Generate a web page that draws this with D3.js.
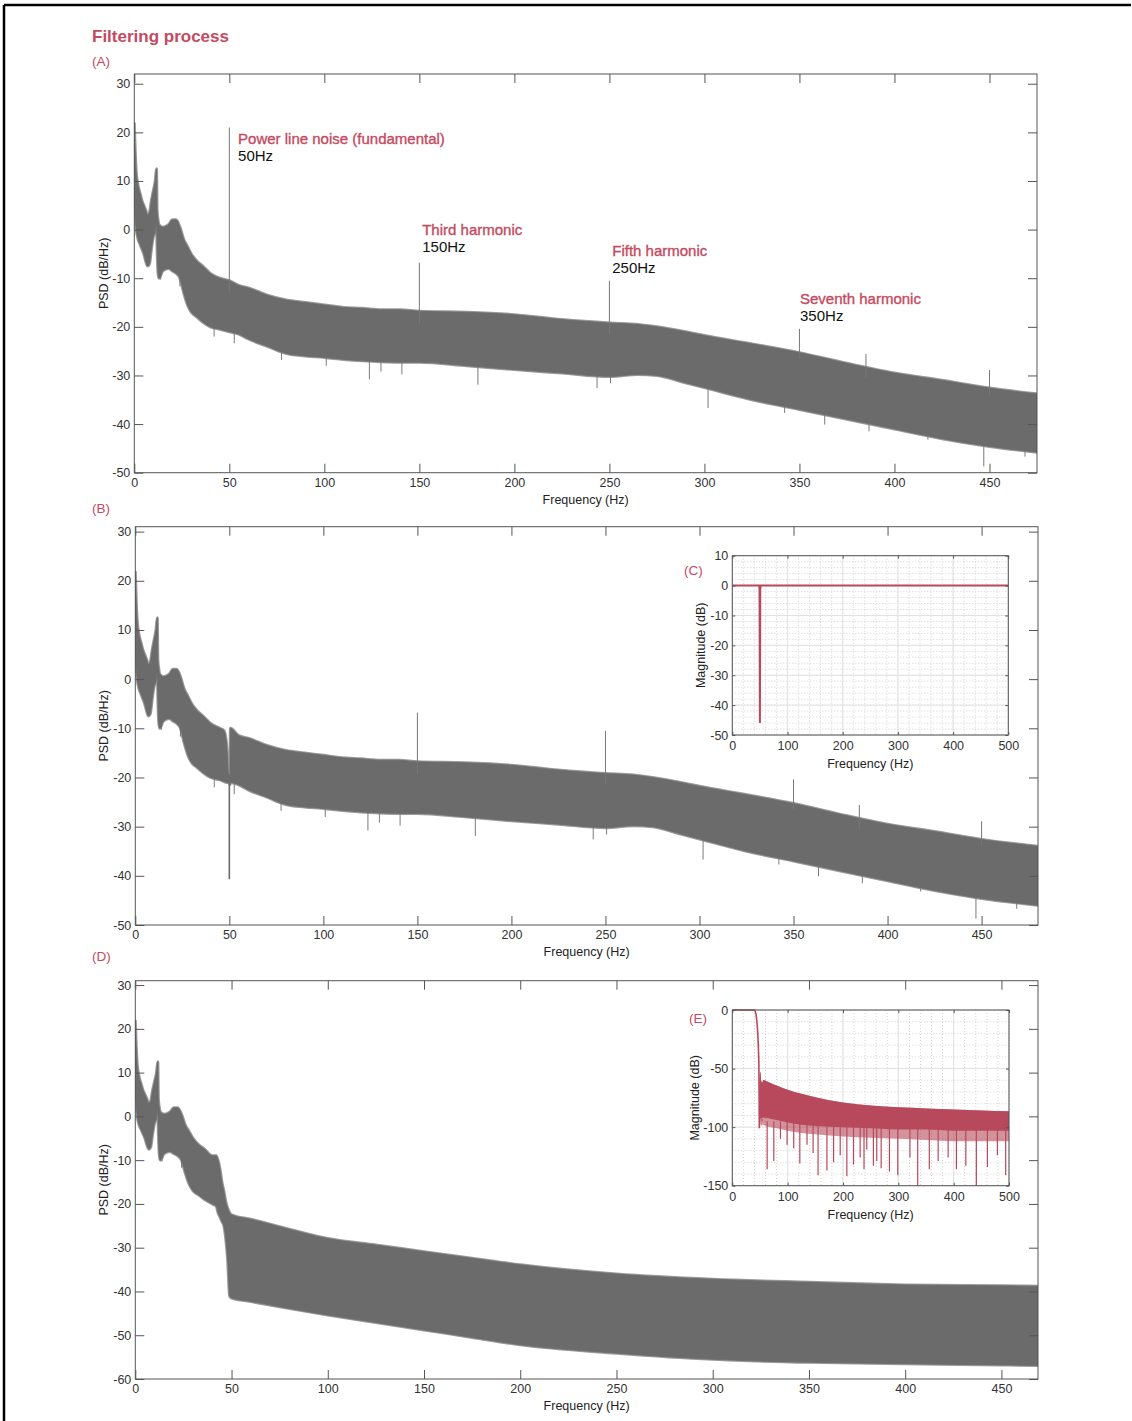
<!DOCTYPE html>
<html>
<head>
<meta charset="utf-8">
<script src="https://cdn.jsdelivr.net/npm/d3@7"></script>
<style>
  body { margin: 0; background: #fff; }
  text { font-family: "Liberation Sans", Arial, Helvetica, sans-serif; }
</style>
</head>
<body>
<svg id="chart" width="1132" height="1421"></svg>
<script>
// ---- raw spectrum (shared by A, B and the low part of D) ----
var baseFreq  = [0, 0.5, 1, 2, 3, 4, 5, 6, 7, 8, 9, 10, 11, 11.7, 12, 12.5, 13, 15, 18, 20, 22, 24, 26, 28, 30, 33, 36, 40, 45, 50, 55, 60, 70, 80, 90, 100, 110, 120, 130, 140, 150, 175, 200, 225, 250, 265, 275, 290, 300, 325, 350, 375, 400, 425, 450, 480];
var baseUpper = [22, 16, 12, 9, 7.5, 6, 5, 4, 3, 3.5, 6, 8, 10, 12.5, 4, 2, 1, 0.5, 1, 2, 2, 0.5, -2, -3.5, -5, -6.5, -7.5, -9, -10, -10.5, -11.5, -12, -13.5, -14.5, -15, -15.5, -16, -16.2, -16.5, -16.5, -16.8, -17, -17.5, -18.5, -19.2, -19.5, -20, -21, -21.8, -23.5, -25.3, -27.5, -29.5, -31, -32.6, -34];
var baseLower = [5, 2, 0, -2, -3, -4, -5, -6.5, -7.5, -7, -4, -1.5, -0.5, 1.5, -4, -9, -10, -8.5, -8, -8.5, -9, -10, -13, -15.5, -17, -18, -19, -20, -20.5, -21, -21.5, -22.5, -24, -25.5, -26, -26.3, -26.7, -27, -27.2, -27.3, -27.3, -28, -28.8, -29.5, -30.2, -29.8, -30, -31.5, -32.5, -35, -37, -39, -41, -43, -44.6, -46];

// narrow peaks above the noise floor
var harmFreq = [50, 150, 250, 350, 385, 450];
var harmPeak = [21, -6.8, -10.5, -20.4, -25.6, -28.9];

// deepest dips below the noise floor
var dipFreq = [13.9, 24, 32.8, 42, 52.6, 77.5, 101, 123.7, 129.8, 140.8, 180.8, 243.5, 250.6, 301.9, 342.2, 363.3, 386.6, 417.6, 447, 468.7];
var dipVal  = [-10.3, -11.7, -17.9, -22, -23.4, -26.8, -28, -30.8, -29.2, -29.8, -31.9, -32.6, -31.6, -36.7, -37.7, -40.1, -41.5, -43.2, -48.7, -46.7];

// annotation labels in (A): anchor frequency and baseline level (dB)
var noteTitle = ["Power line noise (fundamental)", "Third harmonic", "Fifth harmonic", "Seventh harmonic"];
var noteHz    = ["50Hz", "150Hz", "250Hz", "350Hz"];
var noteFreq  = [54.6, 151.5, 251.5, 350.3];
var noteLevel = [17.6, -1.1, -5.4, -15.3];

// ---- notch filtered (B) ----
var notchFreq  = [47, 48.5, 49.7, 50.3, 50.6];
var notchUpper = [-10.4, -13, -19.5, -19.5, -10];
var notchLower = [-20.8, -21, -21, -21.5, -21];
var notchDepth = -40.7;

// ---- low-pass filtered (D), above 42 Hz ----
var lpFreq  = [42, 43, 44, 45, 46, 47, 48, 49, 50, 60, 75, 100, 125, 150, 175, 200, 250, 300, 350, 400, 450, 469];
var lpUpper = [-9, -10, -12, -15, -17, -19.5, -21, -22, -22.5, -23.5, -25.2, -27.9, -29.4, -30.9, -32.4, -33.9, -36, -37.2, -37.9, -38.5, -38.7, -38.8];
var lpLower = [-20.5, -22, -23, -24, -25, -28, -33, -41, -41.5, -42.3, -43.5, -45.4, -47.1, -48.8, -50.5, -52.2, -54.1, -55.5, -56.2, -56.5, -56.8, -56.9];

// ---- (C) notch filter response ----
var cFreq = [0, 48.5, 49.3, 50, 50.7, 51.5, 500];
var cMag  = [0, 0, -1, -46, -1, 0, 0];

// ---- (E) low-pass filter response ----
var ePassFreq = [0, 40, 41, 42, 43, 44, 45, 46, 47, 48, 48.8];
var ePassMag  = [0, 0, -0.5, -2, -4, -8, -13, -20, -30, -45, -101];
var eBandFreq  = [48.8, 50, 51, 52, 54, 56, 60, 70, 80, 100, 125, 150, 200, 250, 300, 350, 400, 450, 500];
var eBandUpper = [-70, -54, -53, -60, -62, -59.8, -60.5, -62.5, -64.5, -68, -71.5, -74.5, -79, -81.5, -83, -84, -85, -85.8, -86.5];
var eBandLower = [-100, -96, -92, -93, -92, -92, -92, -93, -94, -96, -98, -99, -100, -101, -102, -102, -103, -103, -103];
var eTexLower  = [-101, -100, -97, -99, -98, -98, -99, -100, -101, -103, -105, -106, -108, -109, -110, -111, -112, -112, -112];
var eSpikeFreq = [53.7, 63, 75, 87, 99, 111, 122, 135, 146, 155, 171, 183, 195, 207, 219, 231, 238, 243, 255, 261, 269, 284, 299, 321, 335, 356, 372, 390, 405, 422, 441, 461, 479, 494];
var eSpikeVal  = [-93, -136, -129, -110, -115, -118, -131, -115, -122, -141, -137, -130, -124, -142, -132, -126, -136, -119, -133, -129, -135, -138, -141, -126, -150, -136, -129, -126, -136, -133, -150, -134, -124, -141];

var xTicksMain = [0, 50, 100, 150, 200, 250, 300, 350, 400, 450];
var yTicksAB = [-50, -40, -30, -20, -10, 0, 10, 20, 30];
var yTicksD = [-60, -50, -40, -30, -20, -10, 0, 10, 20, 30];

var red = "#c44a5f", curveRed = "#b8495c", grey = "#6b6b6b", axisCol = "#555";

var svg = d3.select("#chart");

// outer frame (top and left edges visible)
svg.append("line").attr("x1", 4).attr("y1", 5).attr("x2", 1131).attr("y2", 5)
   .style("stroke", "#000").style("stroke-width", 2.5);
svg.append("line").attr("x1", 4).attr("y1", 5).attr("x2", 4).attr("y2", 1421)
   .style("stroke", "#000").style("stroke-width", 2.5);

svg.append("text").attr("x", 92).attr("y", 42).text("Filtering process")
   .style("font-size", "17px").style("font-weight", "bold").style("fill", red);

function zip(f, hi, lo) {
  return f.map(function(d, i) { return {f: d, hi: hi[i], lo: lo[i]}; });
}

var baseData = zip(baseFreq, baseUpper, baseLower);
var bData = baseData.filter(function(d) { return d.f < 47 || d.f > 50.6; })
    .concat(zip(notchFreq, notchUpper, notchLower))
    .sort(function(a, b) { return a.f - b.f; });
var dData = baseData.filter(function(d) { return d.f < 42; })
    .concat(zip(lpFreq, lpUpper, lpLower));

var plainFmt = function(d) { return String(d); }; // hyphen minus like the original

// draws box-style axes: labelled left/bottom, inward ticks on all four sides
function drawAxes(g, x, y, xTicks, yTicks, tick, pad) {
  var x0 = x.range()[0], x1 = x.range()[1], y0 = y.range()[1], y1 = y.range()[0];
  var ax = [
    g.append("g").attr("transform", "translate(0," + y1 + ")")
      .call(d3.axisBottom(x).tickValues(xTicks).tickSizeInner(-tick).tickSizeOuter(0).tickPadding(pad).tickFormat(plainFmt)),
    g.append("g").attr("transform", "translate(" + x0 + ",0)")
      .call(d3.axisLeft(y).tickValues(yTicks).tickSizeInner(-tick).tickSizeOuter(0).tickPadding(4).tickFormat(plainFmt)),
    g.append("g").attr("transform", "translate(0," + y0 + ")")
      .call(d3.axisTop(x).tickValues(xTicks).tickSizeInner(-tick).tickSizeOuter(0).tickFormat("")),
    g.append("g").attr("transform", "translate(" + x1 + ",0)")
      .call(d3.axisRight(y).tickValues(yTicks).tickSizeInner(-tick).tickSizeOuter(0).tickFormat(""))
  ];
  ax.forEach(function(a) {
    a.select(".domain").remove();
    a.selectAll("line").style("stroke", axisCol);
    a.selectAll("text").style("font-size", "12.5px").style("fill", "#333")
      .style("font-family", '"Liberation Sans", Arial, sans-serif');
  });
  g.append("rect").attr("x", x0).attr("y", y0).attr("width", x1 - x0).attr("height", y1 - y0)
   .style("fill", "none").style("stroke", axisCol).style("stroke-width", 1);
}

function drawPanel(opt) {
  var x = d3.scaleLinear().domain(opt.xDomain).range(opt.xRange);
  var y = d3.scaleLinear().domain(opt.yDomain).range(opt.yRange);
  var g = svg.append("g");

  g.append("clipPath").attr("id", opt.id).append("rect")
   .attr("x", opt.xRange[0]).attr("y", opt.yRange[1])
   .attr("width", opt.xRange[1] - opt.xRange[0]).attr("height", opt.yRange[0] - opt.yRange[1]);
  var plot = g.append("g").attr("clip-path", "url(#" + opt.id + ")");

  var area = d3.area()
      .curve(d3.curveMonotoneX)
      .x(function(d) { return x(d.f); })
      .y0(function(d) { return y(d.lo); })
      .y1(function(d) { return y(d.hi); });
  // soft fringe first, then the solid band
  plot.append("path").datum(opt.data).attr("d", area)
      .style("fill", "none").style("stroke", "#9a9a9a").style("stroke-width", 3);

  // dips below the floor (drawn under the band so only the tips show)
  opt.dips.forEach(function(d) {
    plot.append("line").attr("x1", x(d.f)).attr("x2", x(d.f))
        .attr("y1", y(d.v + 6)).attr("y2", y(d.v))
        .style("stroke", "#7a7a7a").style("stroke-width", 1);
  });

  plot.append("path").datum(opt.data).attr("d", area)
      .style("fill", grey).style("stroke", grey).style("stroke-width", 0.8);

  // narrow peaks
  opt.peaks.forEach(function(d) {
    plot.append("line").attr("x1", x(d.f)).attr("x2", x(d.f))
        .attr("y1", y(d.base)).attr("y2", y(d.v))
        .style("stroke", d.w ? grey : "#777").style("stroke-width", d.w || 1);
  });

  drawAxes(g, x, y, xTicksMain, opt.yTicks, 9, 5);

  g.append("text").attr("x", 92).attr("y", opt.letterY).text(opt.letter)
   .style("font-size", "13.5px").style("fill", red);
  g.append("text").attr("transform", "translate(104," + ((opt.yRange[0] + opt.yRange[1]) / 2) + ") rotate(-90)")
   .attr("text-anchor", "middle").attr("dy", "0.35em").text("PSD (dB/Hz)")
   .style("font-size", "12.5px").style("fill", "#222");
  g.append("text").attr("x", (opt.xRange[0] + opt.xRange[1]) / 2).attr("y", opt.yRange[0] + 31)
   .attr("text-anchor", "middle").text("Frequency (Hz)")
   .style("font-size", "12.5px").style("fill", "#222");
  return {x: x, y: y, g: g};
}

function upperAt(data, f) {
  var i = d3.bisector(function(d) { return d.f; }).left(data, f);
  return data[Math.max(0, i - 1)].hi;
}

var dipsAll = dipFreq.map(function(f, i) { return {f: f, v: dipVal[i]}; });
var peaksA = harmFreq.map(function(f, i) { return {f: f, v: harmPeak[i], base: upperAt(baseData, f) - 3}; });

// (A) raw
var pA = drawPanel({
  id: "clipA", letter: "(A)", letterY: 66, data: baseData,
  xDomain: [0, 475], xRange: [134.3, 1037],
  yDomain: [-50, 32], yRange: [472.7, 74],
  yTicks: yTicksAB, dips: dipsAll, peaks: peaksA
});

// annotations on (A)
noteTitle.forEach(function(t, i) {
  var tx = pA.x(noteFreq[i]), ty = pA.y(noteLevel[i]);
  pA.g.append("text").attr("x", tx).attr("y", ty).text(t)
     .style("font-size", "15px").style("fill", red).style("stroke", red).style("stroke-width", 0.35);
  pA.g.append("text").attr("x", tx).attr("y", ty + 17).text(noteHz[i])
     .style("font-size", "15px").style("fill", "#111");
});

// (B) notch filtered
var peaksB = peaksA.filter(function(d) { return d.f !== 50; });
peaksB.push({f: 50, v: notchDepth, base: -19.5, w: 1.6});
drawPanel({
  id: "clipB", letter: "(B)", letterY: 513, data: bData,
  xDomain: [0, 480], xRange: [135.3, 1038],
  yDomain: [-50, 31], yRange: [925, 526.7],
  yTicks: yTicksAB, dips: dipsAll, peaks: peaksB
});

// (D) low-pass filtered
drawPanel({
  id: "clipD", letter: "(D)", letterY: 961, data: dData,
  xDomain: [0, 469], xRange: [135.3, 1038],
  yDomain: [-60, 31], yRange: [1379, 980.7],
  yTicks: yTicksD, dips: dipsAll.filter(function(d) { return d.f < 42; }), peaks: []
});

// ---- insets ----
function drawInset(opt) {
  var x = d3.scaleLinear().domain([0, 500]).range(opt.xRange);
  var y = d3.scaleLinear().domain(opt.yDomain).range(opt.yRange);
  var g = svg.append("g");
  var x0 = opt.xRange[0], x1 = opt.xRange[1], y0 = opt.yRange[1], y1 = opt.yRange[0];
  g.append("rect").attr("x", x0).attr("y", y0).attr("width", x1 - x0).attr("height", y1 - y0)
   .style("fill", "#fff");

  // minor grid (dotted) then major grid
  d3.range(0, 501, 20).forEach(function(f) {
    g.append("line").attr("x1", x(f)).attr("x2", x(f)).attr("y1", y0).attr("y2", y1)
     .style("stroke", "#c8c8c8").style("stroke-width", 0.8).style("stroke-dasharray", "1,2");
  });
  d3.range(opt.yDomain[0], opt.yDomain[1] + 0.1, opt.minorStep).forEach(function(v) {
    g.append("line").attr("x1", x0).attr("x2", x1).attr("y1", y(v)).attr("y2", y(v))
     .style("stroke", "#c8c8c8").style("stroke-width", 0.8).style("stroke-dasharray", "1,2");
  });
  d3.range(0, 501, 100).forEach(function(f) {
    g.append("line").attr("x1", x(f)).attr("x2", x(f)).attr("y1", y0).attr("y2", y1)
     .style("stroke", "#e2e2e2").style("stroke-width", 1);
  });
  opt.yTicks.forEach(function(v) {
    g.append("line").attr("x1", x0).attr("x2", x1).attr("y1", y(v)).attr("y2", y(v))
     .style("stroke", "#e2e2e2").style("stroke-width", 1);
  });

  opt.draw(g, x, y);

  drawAxes(g, x, y, [0, 100, 200, 300, 400, 500], opt.yTicks, 3, 6);

  g.append("text").attr("x", opt.letterX).attr("y", opt.letterY).attr("dy", "0.35em").text(opt.letter)
   .style("font-size", "13.5px").style("fill", red);
  g.append("text").attr("transform", "translate(" + opt.labelX + "," + ((y0 + y1) / 2) + ") rotate(-90)")
   .attr("text-anchor", "middle").attr("dy", "0.35em").text("Magnitude (dB)")
   .style("font-size", "12.5px").style("fill", "#222");
  g.append("text").attr("x", (x0 + x1) / 2).attr("y", y1 + 33).attr("text-anchor", "middle")
   .text("Frequency (Hz)").style("font-size", "12.5px").style("fill", "#222");
}

// (C)
drawInset({
  letter: "(C)", letterX: 684, letterY: 570, labelX: 701,
  xRange: [732.3, 1008.3], yDomain: [-50, 10], yRange: [735, 555.7],
  yTicks: [-50, -40, -30, -20, -10, 0, 10], minorStep: 2,
  draw: function(g, x, y) {
    var line = d3.line().x(function(d, i) { return x(cFreq[i]); }).y(function(d) { return y(d); });
    g.append("path").datum(cMag).attr("d", line)
     .style("fill", "none").style("stroke", curveRed).style("stroke-width", 2);
  }
});

// (E)
drawInset({
  letter: "(E)", letterX: 689, letterY: 1018, labelX: 695,
  xRange: [732.3, 1009], yDomain: [-150, 0], yRange: [1185.7, 1010],
  yTicks: [-150, -100, -50, 0], minorStep: 10,
  draw: function(g, x, y) {
    var band = zip(eBandFreq, eBandUpper, eBandLower);
    var tex = zip(eBandFreq, eBandUpper, eTexLower);
    var area = d3.area().curve(d3.curveMonotoneX).x(function(d) { return x(d.f); })
        .y0(function(d) { return y(d.lo); }).y1(function(d) { return y(d.hi); });
    g.append("path").datum(tex).attr("d", area).style("fill", curveRed).style("opacity", 0.6);
    g.append("path").datum(band).attr("d", area).style("fill", curveRed);
    eSpikeFreq.forEach(function(f, i) {
      g.append("line").attr("x1", x(f)).attr("x2", x(f))
       .attr("y1", y(eBandLower[0] + 5)).attr("y2", y(eSpikeVal[i]))
       .style("stroke", curveRed).style("stroke-width", 1.2);
    });
    var line = d3.line().x(function(d, i) { return x(ePassFreq[i]); }).y(function(d) { return y(d); });
    g.append("path").datum(ePassMag).attr("d", line)
     .style("fill", "none").style("stroke", curveRed).style("stroke-width", 1.6);
  }
});
</script>
</body>
</html>
